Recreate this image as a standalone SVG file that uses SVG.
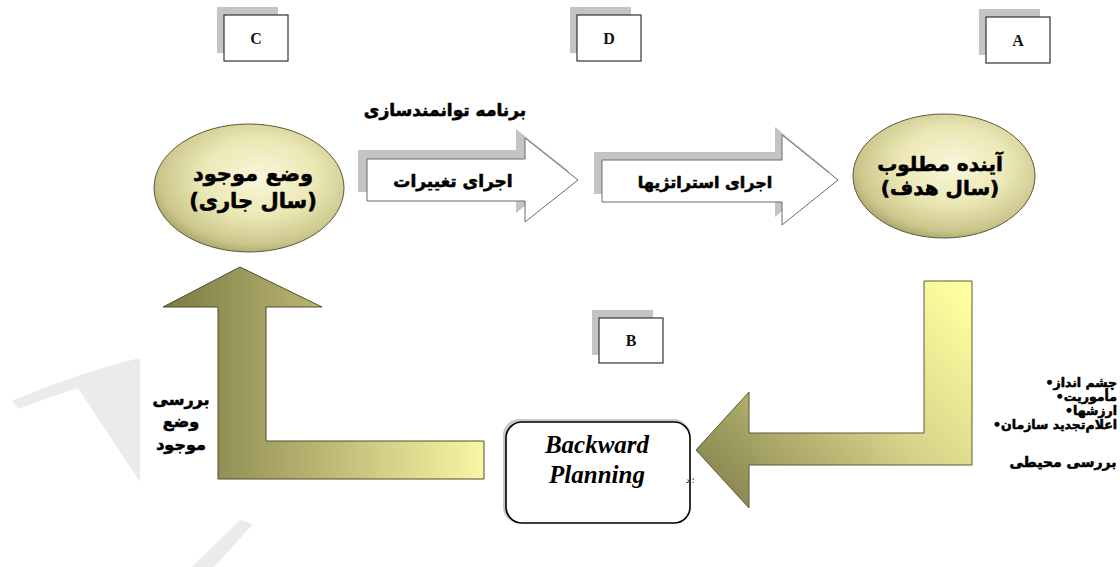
<svg xmlns="http://www.w3.org/2000/svg" width="1120" height="567" viewBox="0 0 1120 567">
<style>
.lbl{font-family:"Liberation Serif",serif;font-size:16px;font-weight:bold;fill:#111}
.fa{font-family:"DejaVu Sans",sans-serif;font-weight:bold;fill:#000;stroke:#000;stroke-width:0.6;stroke-linejoin:round}
.box{fill:#fff;stroke:#333;stroke-width:1.2}
.shd{fill:#c4c4c4}
.wa{fill:#fff;stroke:#6a6a6a;stroke-width:1}
.wm{fill:#ebebeb}
</style>
<defs>
<radialGradient id="ellG" cx="55%" cy="42%" r="62%">
<stop offset="0" stop-color="#f9f7dc"/>
<stop offset="0.5" stop-color="#ebe7b4"/>
<stop offset="0.85" stop-color="#c9c58a"/>
<stop offset="1" stop-color="#a29e63"/>
</radialGradient>
<linearGradient id="leftG" gradientUnits="userSpaceOnUse" x1="160" y1="0" x2="490" y2="0">
<stop offset="0" stop-color="#7c7a43"/>
<stop offset="0.25" stop-color="#9b985c"/>
<stop offset="1" stop-color="#fbf9a6"/>
</linearGradient>
<linearGradient id="rightG" gradientUnits="userSpaceOnUse" x1="955" y1="285" x2="720" y2="505">
<stop offset="0" stop-color="#ffff9e"/>
<stop offset="0.45" stop-color="#d6d28a"/>
<stop offset="1" stop-color="#85834c"/>
</linearGradient>
</defs>
<rect width="1120" height="567" fill="#fff"/>
<g id="watermark">
<path class="wm" d="M140,358 Q80,372 12,401 L18,409 Q50,397 78,388 L140,482 Z"/>
<path class="wm" d="M240,520 L253,524 L214,567 L192,567 Z"/>
</g>
<g id="node-C">
<rect class="shd" x="217" y="7" width="61" height="46"/>
<rect class="box" x="224" y="15" width="64" height="46"/>
<text class="lbl" x="256" y="44" text-anchor="middle">C</text>
</g>
<g id="node-D">
<rect class="shd" x="570" y="7" width="61" height="46"/>
<rect class="box" x="577" y="15" width="64" height="46"/>
<text class="lbl" x="609" y="44" text-anchor="middle">D</text>
</g>
<g id="node-A">
<rect class="shd" x="979" y="9" width="61" height="46"/>
<rect class="box" x="986" y="17" width="64" height="46"/>
<text class="lbl" x="1018" y="46" text-anchor="middle">A</text>
</g>
<g id="node-B">
<rect class="shd" x="592" y="310" width="61" height="45"/>
<rect class="box" x="599" y="318" width="64" height="45"/>
<text class="lbl" x="631" y="346" text-anchor="middle">B</text>
</g>
<g id="node-current">
<ellipse cx="249" cy="188" rx="95" ry="64" fill="url(#ellG)" stroke="#5a5a3a" stroke-width="1"/>
<text class="fa" x="253" y="181" font-size="21" text-anchor="middle" direction="rtl">وضع موجود</text>
<text class="fa" x="253" y="208" font-size="21" text-anchor="middle" direction="rtl">(سال جاری)</text>
</g>
<g id="node-target">
<ellipse cx="944" cy="176" rx="91" ry="62" fill="url(#ellG)" stroke="#5a5a3a" stroke-width="1"/>
<text class="fa" x="940" y="171" font-size="20" text-anchor="middle" direction="rtl">آینده مطلوب</text>
<text class="fa" x="940" y="195" font-size="20" text-anchor="middle" direction="rtl">(سال هدف)</text>
</g>
<g id="node-backward">
<rect x="503" y="419" width="187" height="104" rx="16" fill="#c8c8c8"/>
<rect x="506" y="422" width="184" height="101" rx="16" fill="#fff" stroke="#000" stroke-width="1.6"/>
<text x="597" y="453" font-family="Liberation Serif,serif" font-size="25" font-weight="bold" font-style="italic" text-anchor="middle">Backward</text>
<text x="597" y="483" font-family="Liberation Serif,serif" font-size="25" font-weight="bold" font-style="italic" text-anchor="middle">Planning</text>
</g>
<g id="connectors">
<g id="arrow-changes">
<path class="shd" d="M358,150 H516 V129 L569,171 L516,213 V192 H358 Z"/>
<path class="wa" d="M367,159 H525 V138 L578,180 L525,222 V201 H367 Z"/>
<text class="fa" x="453" y="187" font-size="17" text-anchor="middle" direction="rtl">اجرای تغییرات</text>
</g>
<g id="arrow-strategies">
<path class="shd" d="M594,152 H775 V127 L830,172 L775,217 V194 H594 Z"/>
<path class="wa" d="M602,160 H782 V135 L838,180 L782,225 V202 H602 Z"/>
<text class="fa" x="705" y="188" font-size="16" text-anchor="middle" direction="rtl">اجرای استراتژیها</text>
</g>
<g id="arrow-backward">
<path d="M924,281 H972 V465 H749 V508 L696,450 L749,392 V433 H924 Z" fill="url(#rightG)" stroke="#5a5a38" stroke-width="1"/>
</g>
<g id="arrow-review">
<path d="M240,267 L322,307 H266 V441 H484 V479 H218 V307 H163 Z" fill="url(#leftG)" stroke="#4e4d2c" stroke-width="1"/>
</g>
<text class="fa" x="445" y="116" font-size="17" text-anchor="middle" direction="rtl">برنامه توانمندسازی</text>
<text class="fa" x="181" y="405" font-size="16" text-anchor="middle" direction="rtl">بررسی</text>
<text class="fa" x="181" y="427" font-size="16" text-anchor="middle" direction="rtl">وضع</text>
<text class="fa" x="181" y="450" font-size="16" text-anchor="middle" direction="rtl">موجود</text>
<text class="fa" x="1117" y="387" font-size="12.5" text-anchor="end">•چشم انداز</text>
<text class="fa" x="1117" y="401" font-size="12.5" text-anchor="end">•مأموریت</text>
<text class="fa" x="1117" y="415" font-size="12.5" text-anchor="end">•ارزشها</text>
<text class="fa" x="1117" y="429" font-size="12.5" text-anchor="end">•اعلام‌تجدید سازمان</text>
<text class="fa" x="1063" y="467" font-size="14" text-anchor="middle" direction="rtl">بررسی محیطی</text>
<text x="690" y="483" font-family="DejaVu Sans,sans-serif" font-size="8" text-anchor="middle" direction="rtl">؛ د</text>
</g>
</svg>
